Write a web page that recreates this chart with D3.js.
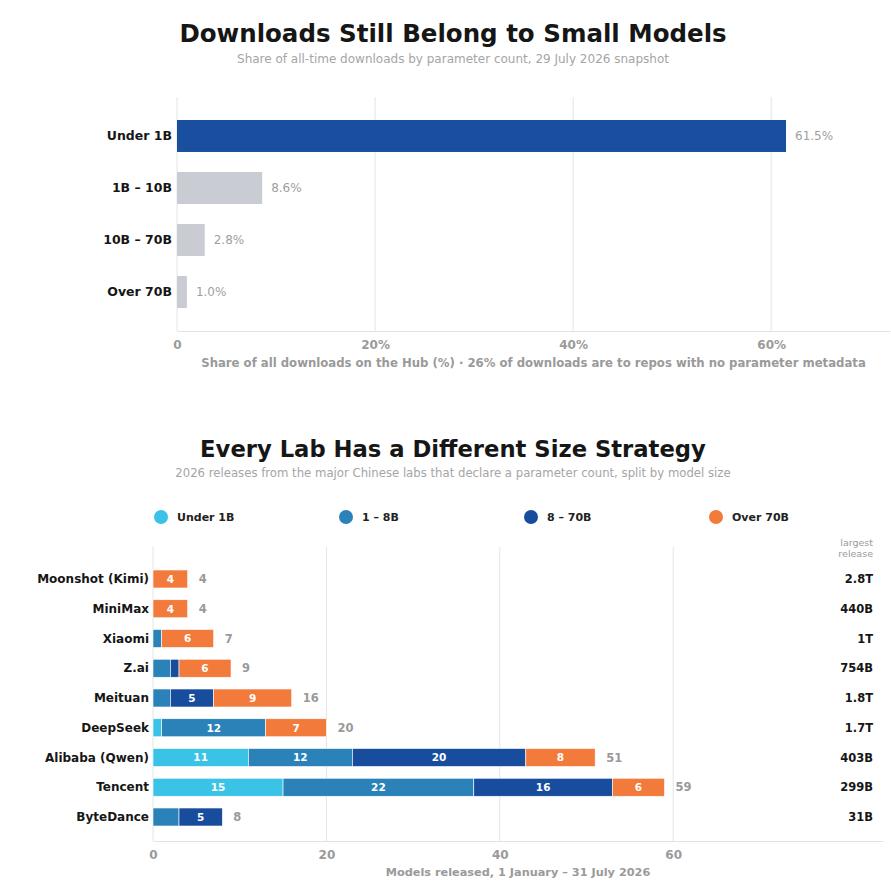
<!DOCTYPE html>
<html>
<head>
<meta charset="utf-8">
<script src="https://cdn.jsdelivr.net/npm/d3@7"></script>
<style>
  html, body { margin: 0; padding: 0; background: #fff; }
  svg { display: block; font-family: "DejaVu Sans", sans-serif; }
  .grid line { stroke: #e4e4e8; }
  .tick text { fill: #9a9a9a; font-weight: 700; }
</style>
</head>
<body>
<svg id="chart" width="891" height="885"></svg>
<script>
// ---- top chart data: share of downloads by parameter bucket
const sizeBuckets = ['Under 1B', '1B – 10B', '10B – 70B', 'Over 70B'];
const downloadShare = [61.5, 8.6, 2.8, 1.0];
const shareTicks = [0, 20, 40, 60];

// ---- bottom chart data: 2026 releases per lab, split by size
const labs = ['Moonshot (Kimi)', 'MiniMax', 'Xiaomi', 'Z.ai', 'Meituan', 'DeepSeek', 'Alibaba (Qwen)', 'Tencent', 'ByteDance'];
const sizeClasses = ['Under 1B', '1 – 8B', '8 – 70B', 'Over 70B'];
const under1B = [0, 0, 0, 0, 0, 1, 11, 15, 0];
const b1to8 = [0, 0, 1, 2, 2, 12, 12, 22, 3];
const b8to70 = [0, 0, 0, 1, 5, 0, 20, 16, 5];
const over70B = [4, 4, 6, 6, 9, 7, 8, 6, 0];
const largestRelease = ['2.8T', '440B', '1T', '754B', '1.8T', '1.7T', '403B', '299B', '31B'];
const releaseTicks = [0, 20, 40, 60];

const classColors = ['#3ac3e6', '#2a82b8', '#184c9d', '#f27b3c'];

const svg = d3.select('#chart');

// ================= top chart =================
const topBox = { left: 177, right: 890, top: 97, bottom: 331 };

svg.append('text')
  .attr('x', 453).attr('y', 42)
  .attr('text-anchor', 'middle')
  .attr('font-size', 24.5).attr('font-weight', 700).attr('fill', '#161616')
  .text('Downloads Still Belong to Small Models');

svg.append('text')
  .attr('x', 453).attr('y', 63)
  .attr('text-anchor', 'middle')
  .attr('font-size', 12).attr('fill', '#a5a5a5')
  .text('Share of all-time downloads by parameter count, 29 July 2026 snapshot');

const xTop = d3.scaleLinear().domain([0, 72]).range([topBox.left, topBox.right]);
const yTop = d3.scaleBand().domain(sizeBuckets).range([topBox.top, topBox.bottom])
  .paddingInner(0.385).paddingOuter(0.442);

// vertical grid
svg.append('g').attr('class', 'grid')
  .selectAll('line').data(shareTicks.slice(1)).join('line')
  .attr('x1', d => xTop(d)).attr('x2', d => xTop(d))
  .attr('y1', topBox.top).attr('y2', topBox.bottom);

svg.append('line')
  .attr('x1', topBox.left).attr('x2', topBox.left)
  .attr('y1', topBox.top).attr('y2', topBox.bottom)
  .attr('stroke', '#e4e4e8');

const topAxis = svg.append('g')
  .attr('transform', `translate(0,${topBox.bottom})`)
  .call(d3.axisBottom(xTop).tickValues(shareTicks)
    .tickFormat(d => d === 0 ? '0' : d + '%').tickSize(0).tickPadding(9));
topAxis.select('.domain').attr('stroke', '#e2e2e6');
topAxis.selectAll('.tick text').attr('font-size', 12).attr('font-family', '"DejaVu Sans", sans-serif');

svg.append('text')
  .attr('x', (topBox.left + topBox.right) / 2).attr('y', 367)
  .attr('text-anchor', 'middle')
  .attr('font-size', 11.7).attr('font-weight', 700).attr('fill', '#9a9a9a')
  .text('Share of all downloads on the Hub (%)  ·  26% of downloads are to repos with no parameter metadata');

const topRows = sizeBuckets.map((b, i) => ({ bucket: b, value: downloadShare[i] }));

svg.append('g').selectAll('rect').data(topRows).join('rect')
  .attr('x', xTop(0))
  .attr('y', d => yTop(d.bucket))
  .attr('width', d => xTop(d.value) - xTop(0))
  .attr('height', yTop.bandwidth())
  .attr('fill', (d, i) => i === 0 ? '#1a4fa0' : '#c9ccd3');

svg.append('g').selectAll('text').data(topRows).join('text')
  .attr('x', d => xTop(d.value) + 9)
  .attr('y', d => yTop(d.bucket) + yTop.bandwidth() / 2)
  .attr('dy', '0.35em')
  .attr('font-size', 12).attr('fill', '#a0a0a0')
  .text(d => d.value.toFixed(1) + '%');

svg.append('g').selectAll('text').data(topRows).join('text')
  .attr('x', topBox.left - 5)
  .attr('y', d => yTop(d.bucket) + yTop.bandwidth() / 2)
  .attr('dy', '0.35em')
  .attr('text-anchor', 'end')
  .attr('font-size', 12.5).attr('font-weight', 700).attr('fill', '#161616')
  .text(d => d.bucket);

// ================= bottom chart =================
const botBox = { left: 153, right: 883, top: 555, bottom: 841 };

svg.append('text')
  .attr('x', 453).attr('y', 457)
  .attr('text-anchor', 'middle')
  .attr('font-size', 22.7).attr('font-weight', 700).attr('fill', '#161616')
  .text('Every Lab Has a Different Size Strategy');

svg.append('text')
  .attr('x', 453).attr('y', 477)
  .attr('text-anchor', 'middle')
  .attr('font-size', 11.7).attr('fill', '#a5a5a5')
  .text('2026 releases from the major Chinese labs that declare a parameter count, split by model size');

// legend
const legendX = d3.scalePoint().domain(sizeClasses).range([161, 716]);
const legend = svg.append('g').selectAll('g').data(sizeClasses).join('g')
  .attr('transform', d => `translate(${legendX(d)},517)`);
legend.append('circle').attr('r', 7).attr('fill', (d, i) => classColors[i]);
legend.append('text')
  .attr('x', 16).attr('dy', '0.35em')
  .attr('font-size', 11).attr('font-weight', 700).attr('fill', '#222')
  .text(d => d);

const xBot = d3.scaleLinear().domain([0, 84.2]).range([botBox.left, botBox.right]);
const yBot = d3.scaleBand().domain(labs).range([botBox.top, botBox.bottom])
  .paddingInner(0.395).paddingOuter(0.504);

svg.append('g').attr('class', 'grid')
  .selectAll('line').data(releaseTicks.slice(1)).join('line')
  .attr('x1', d => xBot(d)).attr('x2', d => xBot(d))
  .attr('y1', botBox.top - 8).attr('y2', botBox.bottom);

svg.append('line')
  .attr('x1', botBox.left).attr('x2', botBox.left)
  .attr('y1', botBox.top - 8).attr('y2', botBox.bottom)
  .attr('stroke', '#e4e4e8');

const botAxis = svg.append('g')
  .attr('transform', `translate(0,${botBox.bottom})`)
  .call(d3.axisBottom(xBot).tickValues(releaseTicks).tickSize(0).tickPadding(9));
botAxis.select('.domain').attr('stroke', '#e2e2e6');
botAxis.selectAll('.tick text').attr('font-size', 12).attr('font-family', '"DejaVu Sans", sans-serif');

svg.append('text')
  .attr('x', (botBox.left + botBox.right) / 2).attr('y', 876)
  .attr('text-anchor', 'middle')
  .attr('font-size', 11.3).attr('font-weight', 700).attr('fill', '#9a9a9a')
  .text('Models released, 1 January – 31 July 2026');

const labRows = labs.map((lab, i) => ({
  lab,
  values: [under1B[i], b1to8[i], b8to70[i], over70B[i]],
  largest: largestRelease[i]
}));

const stacked = d3.stack().keys(d3.range(sizeClasses.length))
  .value((d, k) => d.values[k])(labRows);

const layers = svg.append('g').selectAll('g').data(stacked).join('g')
  .attr('fill', (d, i) => classColors[i]);

layers.selectAll('rect').data(d => d).join('rect')
  .attr('x', d => xBot(d[0]))
  .attr('y', d => yBot(d.data.lab))
  .attr('width', d => xBot(d[1]) - xBot(d[0]))
  .attr('height', yBot.bandwidth())
  .attr('stroke', '#fff').attr('stroke-width', 0.6);

// values inside segments, only where there is room
layers.selectAll('text').data(d => d.filter(s => s[1] - s[0] >= 4)).join('text')
  .attr('x', d => (xBot(d[0]) + xBot(d[1])) / 2)
  .attr('y', d => yBot(d.data.lab) + yBot.bandwidth() / 2)
  .attr('dy', '0.36em')
  .attr('text-anchor', 'middle')
  .attr('font-size', 10.5).attr('font-weight', 700).attr('fill', '#fff')
  .text(d => d[1] - d[0]);

const totals = labRows.map(d => ({ lab: d.lab, total: d3.sum(d.values), largest: d.largest }));

svg.append('g').selectAll('text').data(totals).join('text')
  .attr('x', d => xBot(d.total) + 11)
  .attr('y', d => yBot(d.lab) + yBot.bandwidth() / 2)
  .attr('dy', '0.35em')
  .attr('font-size', 11.5).attr('font-weight', 700).attr('fill', '#9a9a9a')
  .text(d => d.total);

svg.append('g').selectAll('text').data(labRows).join('text')
  .attr('x', botBox.left - 4)
  .attr('y', d => yBot(d.lab) + yBot.bandwidth() / 2)
  .attr('dy', '0.35em')
  .attr('text-anchor', 'end')
  .attr('font-size', 12).attr('font-weight', 700).attr('fill', '#161616')
  .text(d => d.lab);

// largest release column
svg.append('text')
  .attr('x', 873).attr('y', 546)
  .attr('text-anchor', 'end')
  .attr('font-size', 9.5).attr('fill', '#9a9a9a')
  .selectAll('tspan').data(['largest', 'release']).join('tspan')
  .attr('x', 873).attr('dy', (d, i) => i ? 11 : 0)
  .text(d => d);

svg.append('g').selectAll('text').data(totals).join('text')
  .attr('x', 873)
  .attr('y', d => yBot(d.lab) + yBot.bandwidth() / 2)
  .attr('dy', '0.35em')
  .attr('text-anchor', 'end')
  .attr('font-size', 11.5).attr('font-weight', 700).attr('fill', '#161616')
  .text(d => d.largest);
</script>
</body>
</html>
